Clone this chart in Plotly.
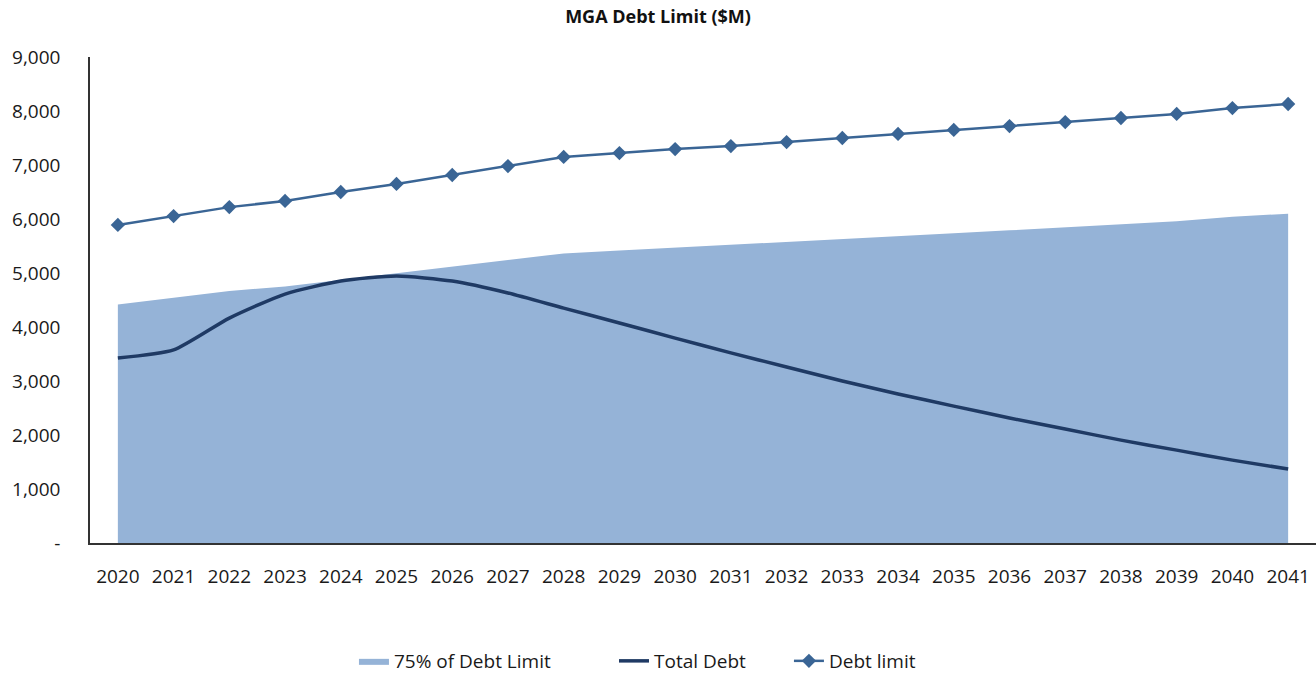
import plotly.graph_objects as go

years = list(range(2020, 2042))
debt_limit = [5890, 6055, 6220, 6335, 6500, 6650, 6815, 6980, 7150, 7220, 7295,
              7350, 7425, 7500, 7575, 7650, 7720, 7795, 7870, 7945, 8055, 8130]
limit_75 = [4418, 4541, 4665, 4751, 4875, 4988, 5111, 5235, 5363, 5415, 5471,
            5513, 5569, 5625, 5681, 5738, 5790, 5846, 5903, 5959, 6041, 6098]
total_debt = [3425, 3575, 4165, 4610, 4850, 4945, 4850, 4630, 4350, 4075, 3795,
              3520, 3260, 3000, 2760, 2535, 2315, 2110, 1905, 1720, 1535, 1370]

y_ticks = [0, 1000, 2000, 3000, 4000, 5000, 6000, 7000, 8000, 9000]
y_ticktext = ["-", "1,000", "2,000", "3,000", "4,000", "5,000", "6,000", "7,000", "8,000", "9,000"]

font_family = "Open Sans, Noto Sans, sans-serif"

fig = go.Figure()
fig.add_trace(go.Scatter(
    x=years, y=limit_75, name="75% of Debt Limit", mode="lines",
    fill="tozeroy", fillcolor="#95B3D7", line=dict(width=0, color="#95B3D7"),
    legend="legend",
))
fig.add_trace(go.Scatter(
    x=years, y=total_debt, name="Total Debt", mode="lines",
    line=dict(color="#1F3A64", width=3.5, shape="spline", smoothing=0.6),
    legend="legend2",
))
fig.add_trace(go.Scatter(
    x=years, y=debt_limit, name="Debt limit", mode="lines+markers",
    line=dict(color="#3A6595", width=2.5),
    marker=dict(symbol="diamond", size=11, color="#3A6595"),
    legend="legend3",
))

leg_common = dict(orientation="h", xanchor="left", yref="container", y=0.0,
                  yanchor="bottom", font=dict(size=19, color="#1a1a1a"),
                  bgcolor="rgba(0,0,0,0)", borderwidth=0)

fig.update_layout(
    width=1316, height=680,
    paper_bgcolor="white", plot_bgcolor="white",
    margin=dict(l=90, r=0, t=57, b=137),
    title=dict(text="<b>MGA Debt Limit ($M)</b>", x=0.5, xanchor="center",
               y=0.976, yanchor="middle",
               font=dict(family=font_family, size=18, color="#111111")),
    font=dict(family=font_family, size=19, color="#1a1a1a"),
    showlegend=True,
    legend=dict(x=0.2153, **leg_common),
    legend2=dict(x=0.4274, **leg_common),
    legend3=dict(x=0.5701, **leg_common),
    xaxis=dict(range=[2019.5, 2041.5], tickmode="array", tickvals=years,
               ticktext=[str(y) for y in years], showgrid=False, zeroline=False,
               showline=True, linecolor="#333333", linewidth=1.5, ticks="",
               ticklabelstandoff=15, tickfont=dict(size=19, color="#1a1a1a")),
    yaxis=dict(range=[0, 9000], tickmode="array", tickvals=y_ticks, ticktext=y_ticktext,
               showgrid=False, zeroline=False, showline=True, linecolor="#333333",
               linewidth=1.5, ticks="", ticklabelstandoff=24,
               tickfont=dict(size=19, color="#1a1a1a")),
)

fig.write_html("out.html", config={"displayModeBar": False},
               post_script="document.body.style.margin='0';document.body.style.overflow='hidden';")
